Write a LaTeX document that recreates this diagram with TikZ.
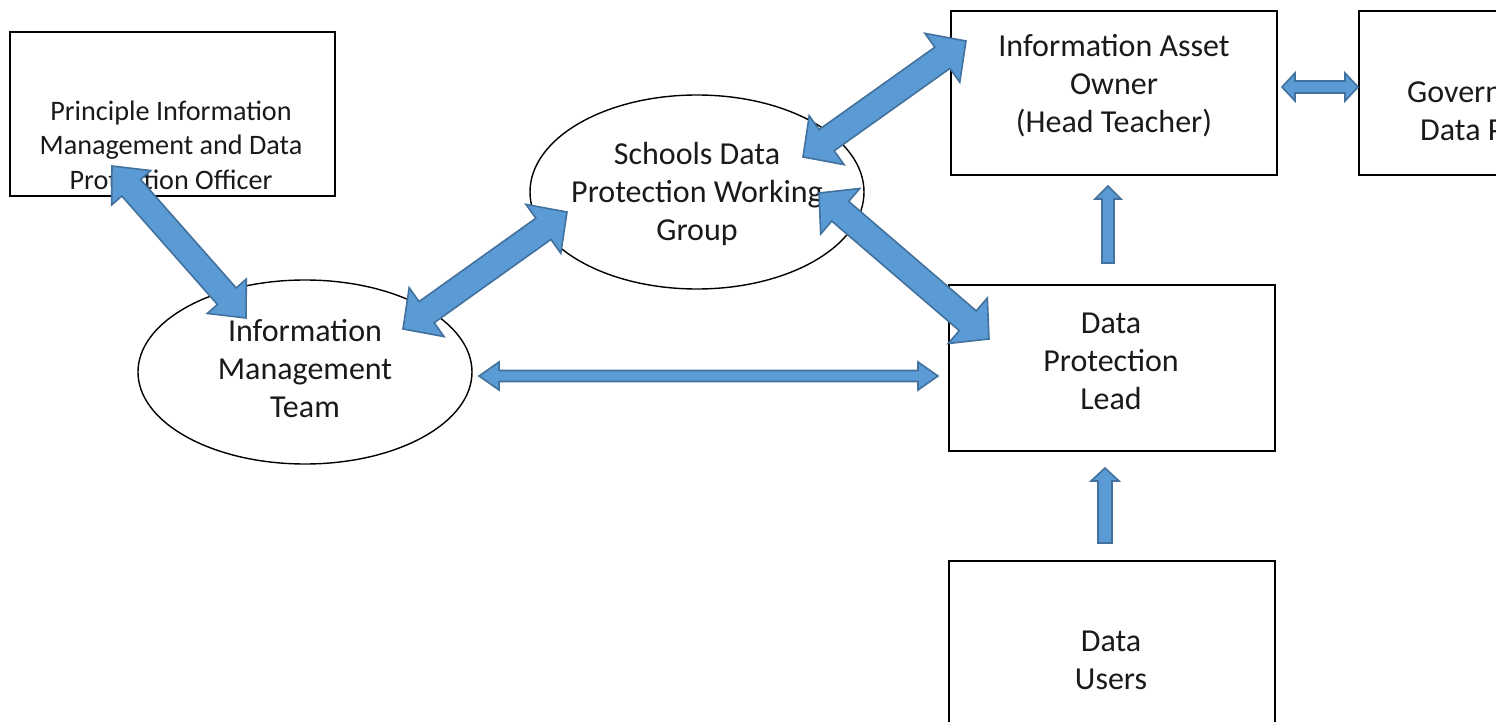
\documentclass[tikz,border=0pt]{standalone}
\usepackage{fontspec}
\setmainfont{Carlito}
\usetikzlibrary{calc,shapes.geometric}
\definecolor{arrfill}{HTML}{5B9BD5}
\definecolor{arrline}{HTML}{41719C}
\definecolor{txtcol}{HTML}{1A1A1A}
% double-headed block arrow: #1 tip, #2 tip, #3 head length, #4 head half width, #5 shaft half width
\newcommand{\BlkArrowD}[5]{%
  \draw[barrow] (#1)
    -- ($(#1)!#3!(#2)!#4!90:(#2)$)
    -- ($(#1)!#3!(#2)!#5!90:(#2)$)
    -- ($(#2)!#3!(#1)!#5!-90:(#1)$)
    -- ($(#2)!#3!(#1)!#4!-90:(#1)$)
    -- (#2)
    -- ($(#2)!#3!(#1)!#4!90:(#1)$)
    -- ($(#2)!#3!(#1)!#5!90:(#1)$)
    -- ($(#1)!#3!(#2)!#5!-90:(#2)$)
    -- ($(#1)!#3!(#2)!#4!-90:(#2)$)
    -- cycle;}
% single-headed block arrow: from #1 (tail) to #2 (tip)
\newcommand{\BlkArrowS}[5]{%
  \draw[barrow] ($(#1)!#5!90:(#2)$)
    -- ($(#2)!#3!(#1)!#5!-90:(#1)$)
    -- ($(#2)!#3!(#1)!#4!-90:(#1)$)
    -- (#2)
    -- ($(#2)!#3!(#1)!#4!90:(#1)$)
    -- ($(#2)!#3!(#1)!#5!90:(#1)$)
    -- ($(#1)!#5!-90:(#2)$)
    -- cycle;}
\begin{document}
\begin{tikzpicture}[x=1pt,y=-1pt,
  box/.style={draw=black, line width=1.8pt, fill=white, inner sep=0pt, anchor=north west},
  oval/.style={ellipse, draw=black, line width=1.4pt, fill=white, inner sep=0pt},
  txt/.style={align=center, text=txtcol, inner sep=0pt, font=\fontsize{32}{38}\selectfont},
  smalltxt/.style={align=center, text=txtcol, inner sep=0pt, font=\fontsize{28.2}{34.5}\selectfont},
  barrow/.style={fill=arrfill, draw=arrline, line width=1.6pt, line join=miter}]
\useasboundingbox (0,0) rectangle (1496,722);
\clip (0,0) rectangle (1496,722);
\fill[white] (0,0) rectangle (1496,722);

% boxes
\node[box, minimum width=325pt, minimum height=164pt] (pim) at (9,31) {};
\node[smalltxt] (pimtext) at (171,145) {Principle Information\\Management and Data\\Protection Officer};

\node[box, minimum width=326pt, minimum height=164pt] (iao) at (950,10) {};
\node[txt] (iaotext) at (1114,86) {Information Asset\\Owner\\(Head Teacher)};

\node[box, minimum width=180pt, minimum height=164pt] (gov) at (1358,10) {};
\node[txt, anchor=west] (govtext1) at (1407,92) {Govern};
\node[txt, anchor=west] (govtext2) at (1420,130) {Data P};

\node[box, minimum width=326pt, minimum height=166pt] (dpl) at (948,284) {};
\node[txt] (dpltext) at (1111,361) {Data\\Protection\\Lead};

\node[box, minimum width=326pt, minimum height=212pt] (du) at (948,560) {};
\node[txt] (dutext) at (1111,660) {Data\\Users};

% ellipses
\node[oval, minimum width=334pt, minimum height=194pt] (sdpwg) at (697,192) {};
\node[txt] (sdpwgtext) at (697,194) {Schools Data\\Protection Working\\Group};
\node[oval, minimum width=334pt, minimum height=184pt] (imt) at (305,372) {};
\node[txt] (imttext) at (305,369) {Information\\Management\\Team};

% arrow end points
\coordinate (a1s) at (112,166);  \coordinate (a1e) at (246,318);
\coordinate (a2s) at (403,329);  \coordinate (a2e) at (567,212);
\coordinate (a3s) at (803,157);  \coordinate (a3e) at (966,41);
\coordinate (a4s) at (819,193);  \coordinate (a4e) at (989,339);
\coordinate (a5s) at (479,376);  \coordinate (a5e) at (938,376);
\coordinate (a6s) at (1282,87);  \coordinate (a6e) at (1358,87);
\coordinate (a7s) at (1108,263); \coordinate (a7e) at (1108,186);
\coordinate (a8s) at (1105,543); \coordinate (a8e) at (1105,468);

% block arrows
\BlkArrowD{a1s}{a1e}{29pt}{26pt}{12.5pt}
\BlkArrowD{a2s}{a2e}{29pt}{30pt}{13pt}
\BlkArrowD{a3s}{a3e}{29pt}{30pt}{13pt}
\BlkArrowD{a4s}{a4e}{28pt}{30pt}{13pt}
\BlkArrowD{a5s}{a5e}{20pt}{14pt}{5.5pt}
\BlkArrowD{a6s}{a6e}{13pt}{14pt}{6pt}
\BlkArrowS{a7s}{a7e}{13pt}{13pt}{6pt}
\BlkArrowS{a8s}{a8e}{13pt}{14pt}{7pt}
\end{tikzpicture}
\end{document}
